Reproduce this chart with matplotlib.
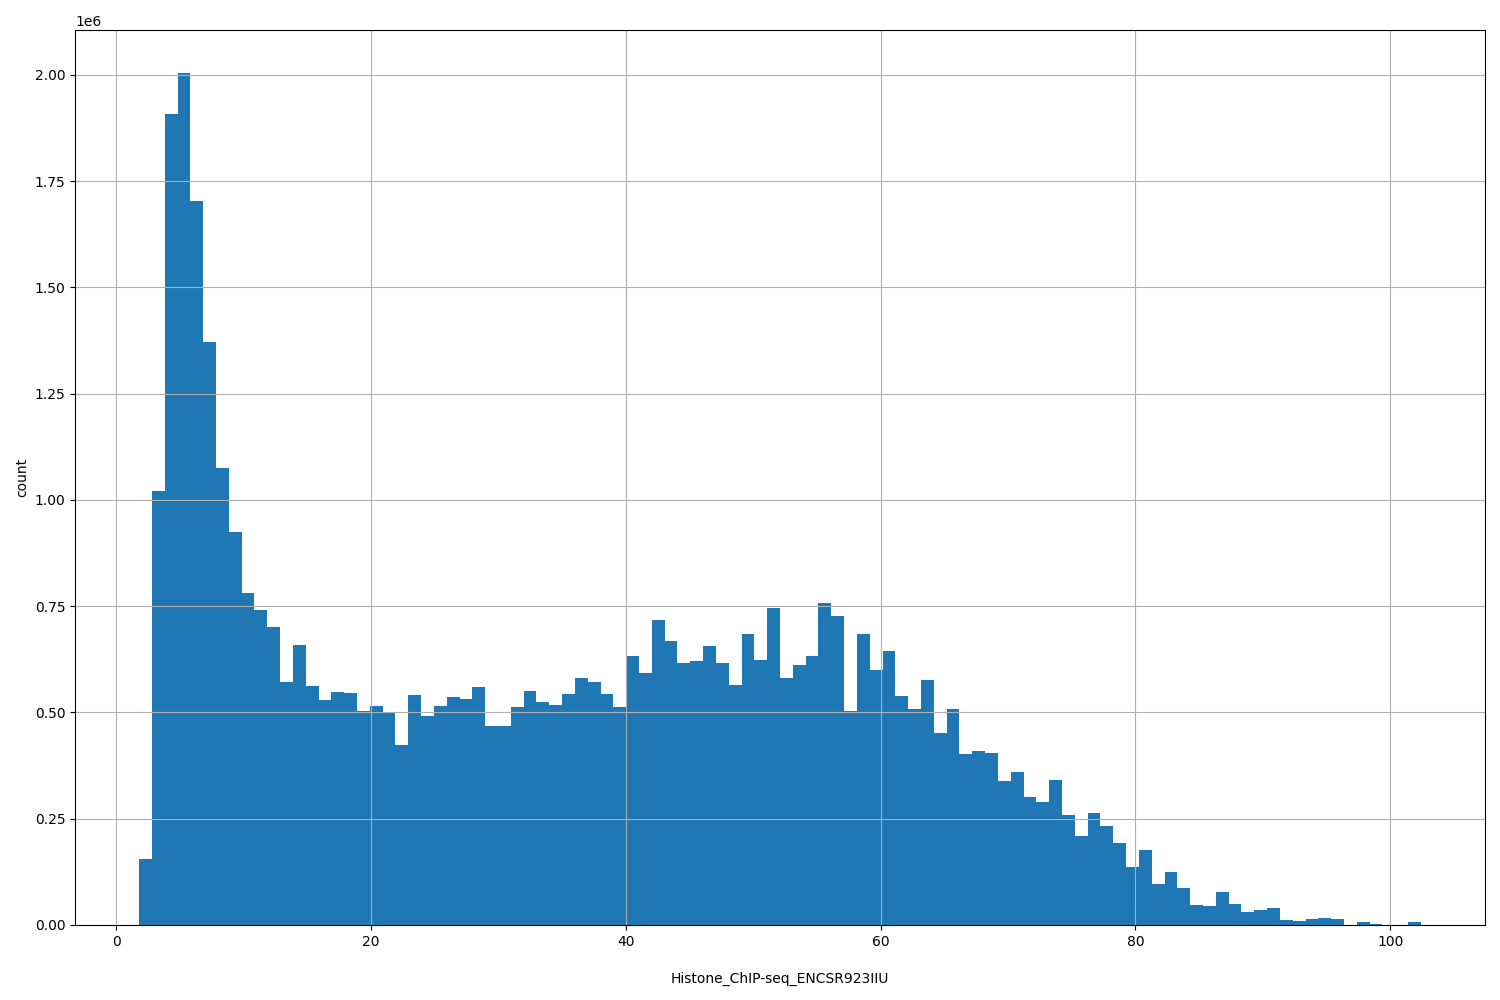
import numpy as np
import matplotlib
matplotlib.use("Agg")
import matplotlib.pyplot as plt

counts_m = [0.155,1.022,1.908,2.005,1.704,1.372,1.074,0.924,0.780,0.740,
0.700,0.571,0.658,0.562,0.529,0.548,0.545,0.503,0.515,0.501,
0.423,0.541,0.491,0.515,0.536,0.531,0.559,0.468,0.468,0.512,
0.550,0.524,0.517,0.543,0.580,0.571,0.543,0.512,0.632,0.592,
0.717,0.667,0.616,0.620,0.656,0.616,0.564,0.684,0.623,0.745,
0.580,0.611,0.632,0.757,0.726,0.503,0.684,0.599,0.644,0.538,
0.508,0.576,0.451,0.508,0.402,0.409,0.404,0.338,0.360,0.301,
0.289,0.341,0.259,0.209,0.263,0.233,0.193,0.136,0.176,0.096,
0.125,0.087,0.047,0.045,0.078,0.049,0.031,0.035,0.040,0.012,
0.009,0.014,0.016,0.014,0.0,0.007,0.003,0.001,0.001,0.008]
counts = np.array(counts_m) * 1e6
x_min, x_max = 1.8, 102.4
edges = np.linspace(x_min, x_max, len(counts) + 1)
centers = (edges[:-1] + edges[1:]) / 2

fig = plt.figure(figsize=(15, 10), dpi=100)
ax = fig.add_axes([0.05, 0.075, 0.94, 0.895])
ax.hist(centers, bins=edges, weights=counts, color="#1f77b4")
ax.grid(True)
ax.set_xlabel("Histone_ChIP-seq_ENCSR923IIU", labelpad=17)
ax.set_ylabel("count")
fig.savefig("out.png")
